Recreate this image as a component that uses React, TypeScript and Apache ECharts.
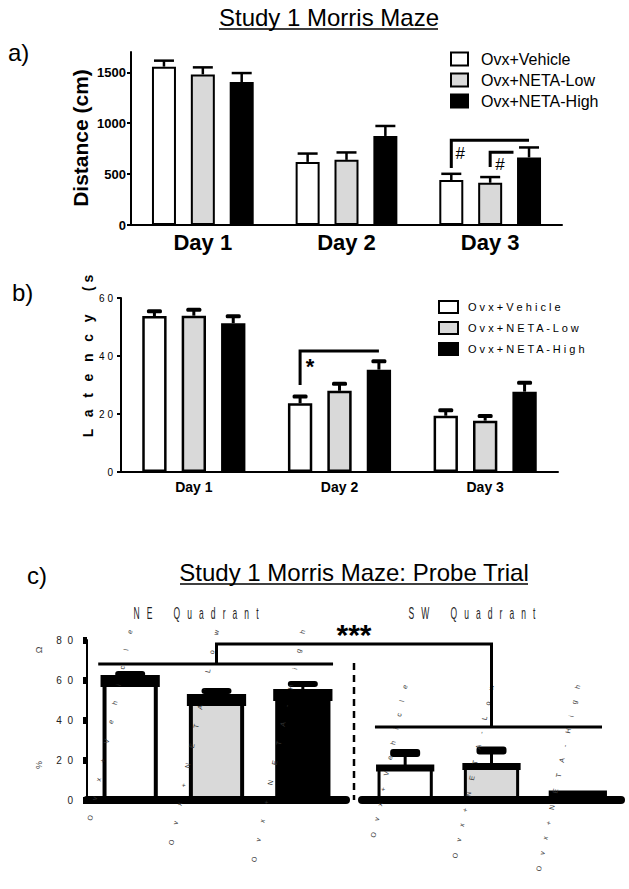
import React, { useEffect, useRef } from 'react';
import * as echarts from 'echarts';

const FONT = "'Liberation Sans', Arial, Helvetica, sans-serif";

const GROUPS = ['Ovx+Vehicle', 'Ovx+NETA-Low', 'Ovx+NETA-High'];
const DAYS = ['Day 1', 'Day 2', 'Day 3'];
const BAR_COLORS = ['#ffffff', '#d9d9d9', '#000000'];

// Panel a: distance (cm)
const DIST_VEHICLE = [1556, 620, 441];
const DIST_LOW = [1480, 640, 415];
const DIST_HIGH = [1405, 875, 664];
const DIST_VEHICLE_SEM = [59, 82, 62];
const DIST_LOW_SEM = [69, 73, 56];
const DIST_HIGH_SEM = [88, 98, 98];
const DIST_TICKS = [0, 500, 1000, 1500];

// Panel b: latency (s)
const LAT_VEHICLE = [53.8, 23.7, 19.4];
const LAT_LOW = [53.9, 28, 17.7];
const LAT_HIGH = [51.3, 35.3, 27.7];
const LAT_VEHICLE_SEM = [2.3, 3, 2.6];
const LAT_LOW_SEM = [2.7, 3.1, 2.3];
const LAT_HIGH_SEM = [3.1, 3.6, 3.8];
const LAT_TICKS = [0, 20, 40, 60];

// Panel c: probe trial (% time in quadrant)
const PROBE_NE = [61.5, 52, 54.5];
const PROBE_NE_SEM = [3, 4, 5];
const PROBE_SW = [17, 17.8, 4];
const PROBE_SW_SEM = [8.5, 9, 0.5];
const PROBE_TICKS = [0, 20, 40, 60, 80];

// significance annotations (data units; bar positions in group slots 0..2)
const DIST_BRACKETS = [
  { day: 2, from: 0, to: 2, top: 833, leg: 559, mark: '#', markAt: 0.23, markY: 706 },
  { day: 2, from: 1, to: 1.6, top: 716, leg: 569, mark: '#', markAt: 1.25, markY: 598 },
];
const LAT_BRACKETS = [
  { day: 1, from: 0, to: 2, top: 41.7, leg: 30, mark: '*', markAt: 0.25, markY: 36.5 },
];
const PROBE_NE_LINE = { from: -0.37, to: 2.35, y: 68 };
const PROBE_SW_LINE = { from: -0.35, to: 2.28, y: 36.5 };
const PROBE_LINK = { neCat: 1, swCat: 1, top: 78, label: '***', labelY: 85 };

const BAR_W = 0.167;
const BAR_GAP = 0.62;
const SLOT = (1 + BAR_GAP) * BAR_W;

const spaced = (s: string, n: number) => s.split('').join(' '.repeat(n));

function errData(means: number[][], sems: number[][]) {
  const out: number[][] = [];
  means.forEach((arr, k) => arr.forEach((m, d) => out.push([d, m, sems[k][d], k])));
  return out;
}

function groupedRender(kind: 'line' | 'block') {
  return (params: any, api: any) => {
    const d = api.value(0);
    const m = api.value(1);
    const s = api.value(2);
    const k = api.value(3);
    const catW = api.size([1, 0])[0];
    const pm = api.coord([d, m]);
    const pt = api.coord([d, m + s]);
    const x = pm[0] + (k - 1) * SLOT * catW;
    const children: any[] = [];
    if (kind === 'line') {
      children.push({ type: 'line', shape: { x1: x, y1: pm[1], x2: x, y2: pt[1] }, style: { stroke: '#000', lineWidth: 2.5 } });
      children.push({ type: 'line', shape: { x1: x - 10, y1: pt[1], x2: x + 10, y2: pt[1] }, style: { stroke: '#000', lineWidth: 2.5 } });
    } else {
      children.push({ type: 'line', shape: { x1: x, y1: pm[1], x2: x, y2: pt[1] + 2 }, style: { stroke: '#000', lineWidth: 3 } });
      children.push({ type: 'rect', shape: { x: x - 7.5, y: pt[1], width: 15, height: 4, r: 1.5 }, style: { fill: '#000' } });
    }
    return { type: 'group', children };
  };
}

function probeRender(barFrac: number, border: number, band: number, capH: number) {
  return (params: any, api: any) => {
    const d = api.value(0);
    const m = api.value(1);
    const s = api.value(2);
    const catW = api.size([1, 0])[0];
    const pm = api.coord([d, m]);
    const pt = api.coord([d, m + s]);
    const x = pm[0];
    const vis = barFrac * catW + border;
    return {
      type: 'group',
      children: [
        { type: 'rect', shape: { x: x - vis / 2, y: pm[1] - border / 2, width: vis, height: band }, style: { fill: '#000' } },
        { type: 'line', shape: { x1: x, y1: pm[1], x2: x, y2: pt[1] + 2 }, style: { stroke: '#000', lineWidth: 3 } },
        { type: 'rect', shape: { x: x - 15, y: pt[1], width: 30, height: capH, r: 3 }, style: { fill: '#000' } },
      ],
    };
  };
}

function buildOption() {
  const axisLineStyle = { color: '#000', width: 2 };
  const distMeans = [DIST_VEHICLE, DIST_LOW, DIST_HIGH];
  const distSems = [DIST_VEHICLE_SEM, DIST_LOW_SEM, DIST_HIGH_SEM];
  const latMeans = [LAT_VEHICLE, LAT_LOW, LAT_HIGH];
  const latSems = [LAT_VEHICLE_SEM, LAT_LOW_SEM, LAT_HIGH_SEM];

  const series: any[] = [];
  GROUPS.forEach((g, k) => {
    series.push({
      type: 'bar', name: g, xAxisIndex: 0, yAxisIndex: 0, data: distMeans[k],
      barWidth: (BAR_W * 100) + '%', barGap: (BAR_GAP * 100) + '%',
      itemStyle: { color: BAR_COLORS[k], borderColor: '#000', borderWidth: 2 },
    });
  });
  GROUPS.forEach((g, k) => {
    series.push({
      type: 'bar', name: g, xAxisIndex: 1, yAxisIndex: 1, data: latMeans[k],
      barWidth: (BAR_W * 100) + '%', barGap: (BAR_GAP * 100) + '%',
      itemStyle: { color: BAR_COLORS[k], borderColor: '#000', borderWidth: 2.5 },
    });
  });
  series.push({
    type: 'custom', name: 'errA', xAxisIndex: 0, yAxisIndex: 0, clip: false, z: 3,
    data: errData(distMeans, distSems), renderItem: groupedRender('line'),
  });
  series.push({
    type: 'custom', name: 'errB', xAxisIndex: 1, yAxisIndex: 1, clip: false, z: 3,
    data: errData(latMeans, latSems), renderItem: groupedRender('block'),
  });
  series.push({
    type: 'bar', name: 'NE Quadrant', xAxisIndex: 2, yAxisIndex: 2, barWidth: '64%',
    data: PROBE_NE.map((v, i) => ({ value: v, itemStyle: { color: BAR_COLORS[i] } })),
    itemStyle: { borderColor: '#000', borderWidth: 4 },
  });
  series.push({
    type: 'bar', name: 'SW Quadrant', xAxisIndex: 3, yAxisIndex: 3, barWidth: '64%',
    data: PROBE_SW.map((v, i) => ({ value: v, itemStyle: { color: BAR_COLORS[i] } })),
    itemStyle: { borderColor: '#000', borderWidth: 3 },
  });
  series.push({
    type: 'custom', name: 'errNE', xAxisIndex: 2, yAxisIndex: 2, clip: false, z: 3,
    data: PROBE_NE.map((m, i) => [i, m, PROBE_NE_SEM[i]]), renderItem: probeRender(0.64, 4, 12, 6),
  });
  series.push({
    type: 'custom', name: 'errSW', xAxisIndex: 3, yAxisIndex: 3, clip: false, z: 3,
    data: PROBE_SW.map((m, i) => [i, m, PROBE_SW_SEM[i]]), renderItem: probeRender(0.64, 3, 7, 8),
  });

  const probeX = (margin: number, sp: number) => ({
    type: 'category', data: GROUPS, z: 10,
    axisLine: { lineStyle: { color: '#000', width: 8 } },
    axisTick: { show: false },
    axisLabel: { interval: 0, rotate: 78, margin, fontSize: 7, color: '#333', fontFamily: FONT, formatter: (s: string) => spaced(s, sp) },
  });

  return {
    animation: false,
    textStyle: { fontFamily: FONT },
    grid: [
      { left: 131, top: 52, width: 431, height: 173 },
      { left: 121, top: 298, width: 437, height: 174 },
      { left: 87, top: 640, width: 259, height: 160 },
      { left: 362, top: 640, width: 259, height: 160 },
    ],
    legend: [
      {
        orient: 'vertical', left: 445, top: 46, itemWidth: 17, itemHeight: 13, itemGap: 5,
        data: GROUPS, icon: 'rect', selectedMode: false,
        itemStyle: { borderColor: '#000', borderWidth: 2 },
        textStyle: { fontSize: 16, color: '#000', fontFamily: FONT, lineHeight: 16, padding: [0, 0, 0, 8] },
      },
      {
        orient: 'vertical', left: 433, top: 295, itemWidth: 19, itemHeight: 12, itemGap: 7,
        data: GROUPS, icon: 'rect', selectedMode: false,
        itemStyle: { borderColor: '#000', borderWidth: 2 },
        formatter: (n: string) => spaced(n, 1),
        textStyle: { fontSize: 11, color: '#000', fontFamily: FONT, lineHeight: 13, padding: [0, 0, 0, 5] },
      },
    ],
    xAxis: [
      {
        gridIndex: 0, type: 'category', data: DAYS,
        axisLine: { lineStyle: axisLineStyle },
        axisTick: { alignWithLabel: true, length: 5, lineStyle: axisLineStyle },
        axisLabel: { color: '#000', fontSize: 22, fontWeight: 'bold', margin: 6, fontFamily: FONT },
      },
      {
        gridIndex: 1, type: 'category', data: DAYS,
        axisLine: { lineStyle: axisLineStyle },
        axisTick: { alignWithLabel: true, length: 4, lineStyle: axisLineStyle },
        axisLabel: { color: '#000', fontSize: 14, fontWeight: 'bold', margin: 8, fontFamily: FONT },
      },
      { gridIndex: 2, ...probeX(-170, 8) },
      { gridIndex: 3, ...probeX(-115, 6) },
    ],
    yAxis: [
      {
        gridIndex: 0, type: 'value', min: 0, max: 1700, interval: 500,
        splitLine: { show: false },
        axisLine: { show: true, lineStyle: axisLineStyle },
        axisTick: { show: true, length: 4, customValues: DIST_TICKS, lineStyle: axisLineStyle },
        axisLabel: { customValues: DIST_TICKS, color: '#000', fontSize: 13, fontWeight: 'bold', margin: 5, fontFamily: FONT, formatter: (v: number) => String(v) },
      },
      {
        gridIndex: 1, type: 'value', min: 0, max: 60, interval: 20,
        splitLine: { show: false },
        axisLine: { show: true, lineStyle: axisLineStyle },
        axisTick: { show: true, length: 4, customValues: LAT_TICKS, lineStyle: axisLineStyle },
        axisLabel: { customValues: LAT_TICKS, color: '#000', fontSize: 10, margin: 8, fontFamily: FONT, formatter: (v: number) => spaced(String(v), 1) },
      },
      {
        gridIndex: 2, type: 'value', min: 0, max: 80, interval: 20,
        splitLine: { show: false },
        axisLine: { show: true, lineStyle: axisLineStyle },
        axisTick: { show: true, length: 4, customValues: PROBE_TICKS, lineStyle: { color: '#000', width: 7 } },
        axisLabel: { customValues: PROBE_TICKS, color: '#222', fontSize: 10, margin: 14, fontFamily: FONT, formatter: (v: number) => spaced(String(v), 2) },
      },
      {
        gridIndex: 3, type: 'value', min: 0, max: 80, interval: 20, show: false,
        splitLine: { show: false },
      },
    ],
    series,
  };
}

export default function App() {
  const ref = useRef<HTMLDivElement>(null);
  useEffect(() => {
    if (!ref.current) return;
    const chart = echarts.init(ref.current, null, { renderer: 'svg' });
    chart.setOption(buildOption() as any);

    const toPx = (idx: number, cat: number, val: number) => {
      const a = chart.convertToPixel({ xAxisIndex: idx, yAxisIndex: idx } as any, [0, val]) as number[];
      const b = chart.convertToPixel({ xAxisIndex: idx, yAxisIndex: idx } as any, [1, val]) as number[];
      return [a[0] + cat * (b[0] - a[0]), a[1]];
    };
    const slotPx = (idx: number, day: number, slot: number, val: number) => toPx(idx, day + (slot - 1) * SLOT, val);

    const els: any[] = [];
    const line = (p: number[][], w = 2.5, dash?: number[]) => ({
      type: 'polyline', shape: { points: p }, style: { stroke: '#000', lineWidth: w, fill: null, lineDash: dash }, z: 20,
    });
    const text = (t: string, x: number, y: number, o: any = {}) => ({
      type: 'text', x, y, rotation: o.rotation || 0, scaleX: o.scaleX || 1, z: 20,
      style: {
        text: t, fill: o.fill || '#000', fontSize: o.fontSize || 14, fontWeight: o.fontWeight || 'normal',
        fontFamily: FONT, align: o.align || 'center', verticalAlign: 'middle',
      },
    });

    const brackets = (idx: number, list: any[], fs: number, fw: string) => {
      list.forEach((b) => {
        const pLeg = slotPx(idx, b.day, b.from, b.leg);
        const pL = slotPx(idx, b.day, b.from, b.top);
        const pR = slotPx(idx, b.day, b.to, b.top);
        els.push(line([pLeg, pL, pR], 3));
        const pm = slotPx(idx, b.day, b.markAt, b.markY);
        els.push(text(b.mark, pm[0], pm[1], { fontSize: fs, fontWeight: fw }));
      });
    };
    brackets(0, DIST_BRACKETS, 17, 'normal');
    brackets(1, LAT_BRACKETS, 22, 'bold');

    // probe trial lines
    els.push(line([toPx(2, PROBE_NE_LINE.from, PROBE_NE_LINE.y), toPx(2, PROBE_NE_LINE.to, PROBE_NE_LINE.y)], 3));
    els.push(line([toPx(3, PROBE_SW_LINE.from, PROBE_SW_LINE.y), toPx(3, PROBE_SW_LINE.to, PROBE_SW_LINE.y)], 3));
    els.push(line([
      toPx(2, PROBE_LINK.neCat, PROBE_NE_LINE.y),
      toPx(2, PROBE_LINK.neCat, PROBE_LINK.top),
      toPx(3, PROBE_LINK.swCat, PROBE_LINK.top),
      toPx(3, PROBE_LINK.swCat, PROBE_SW_LINE.y),
    ], 3));
    const gapL = toPx(2, 2.5, 0);
    const gapR = toPx(3, -0.5, 0);
    const midX = (gapL[0] + gapR[0]) / 2;
    els.push(line([[midX, toPx(2, 0, 68.5)[1]], [midX, gapL[1]]], 2.5, [7, 5]));
    const star = toPx(2, 0, PROBE_LINK.labelY);
    els.push(text(PROBE_LINK.label, midX, star[1] + 4, { fontSize: 30, fontWeight: 'bold' }));

    // titles and labels
    els.push(text('Study 1 Morris Maze', 329, 17, { fontSize: 24 }));
    els.push(line([[219, 29], [438, 29]], 1.5));
    els.push(text('a)', 8, 52, { fontSize: 24, align: 'left' }));
    els.push(text('Distance (cm)', 80, 138, { fontSize: 21, fontWeight: 'bold', rotation: Math.PI / 2 }));

    els.push(text('b)', 12, 292, { fontSize: 24, align: 'left' }));
    els.push(text(spaced('Latency', 3) + '      ( s', 88, 356, { fontSize: 14, fontWeight: 'bold', rotation: Math.PI / 2 }));

    els.push(text('c)', 27, 575, { fontSize: 24, align: 'left' }));
    els.push(text('Study 1 Morris Maze: Probe Trial', 354, 572, { fontSize: 24 }));
    els.push(line([[180, 584], [528, 584]], 1.5));
    els.push(text('N E   Q u a d r a n t'.split(' ').join('   '), 196, 613, { fontSize: 17, scaleX: 0.5, fill: '#222' }));
    els.push(text('S W   Q u a d r a n t'.split(' ').join('   '), 472, 613, { fontSize: 17, scaleX: 0.5, fill: '#222' }));
    els.push(text('Ω', 39, 650, { fontSize: 9, rotation: Math.PI / 2, fill: '#444' }));
    els.push(text('%', 39, 765, { fontSize: 9, rotation: Math.PI / 2, fill: '#444' }));

    chart.setOption({ graphic: { elements: els } } as any);
    return () => chart.dispose();
  }, []);

  return (
    <div
      ref={ref}
      style={{ position: 'absolute', left: 0, top: 0, width: 629, height: 889, background: '#fff' }}
    />
  );
}
